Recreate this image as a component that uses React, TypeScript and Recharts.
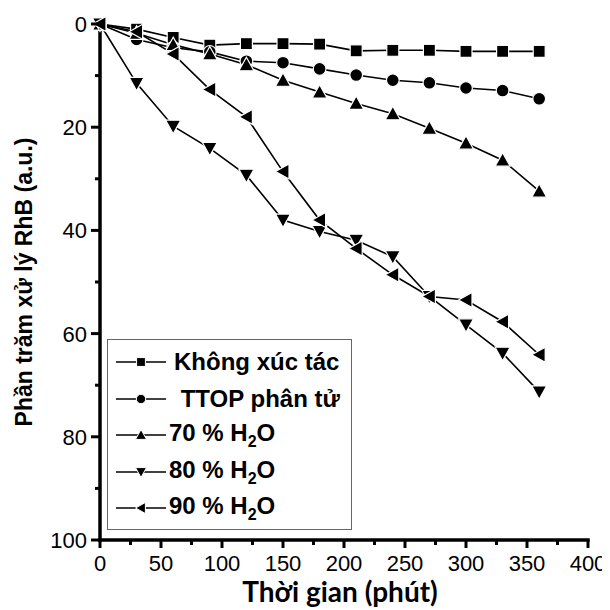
import React from 'react';
import { LineChart, Line, XAxis, YAxis, Label } from 'recharts';

const times = [0, 30, 60, 90, 120, 150, 180, 210, 240, 270, 300, 330, 360];
const khongXucTac = [0, 1.0, 2.6, 4.1, 3.8, 3.8, 3.9, 5.2, 5.1, 5.1, 5.3, 5.3, 5.3];
const ttopPhanTu = [0, 3.0, 4.6, 5.4, 7.2, 7.5, 8.7, 9.9, 10.9, 11.4, 12.4, 12.9, 14.5];
const h2o70 = [0, 1.8, 4.0, 5.8, 7.9, 10.9, 13.2, 15.4, 17.4, 20.2, 23.1, 26.4, 32.4];
const h2o80 = [0, 11.5, 19.8, 24.1, 29.3, 38.0, 40.2, 41.9, 45.1, 52.8, 58.3, 63.8, 71.3];
const h2o90 = [0, 1.5, 5.8, 12.7, 18.0, 28.6, 38.0, 43.5, 48.6, 52.8, 53.5, 57.7, 64.1];

const xTicks = [0, 25, 50, 75, 100, 125, 150, 175, 200, 225, 250, 275, 300, 325, 350, 375, 400];
const yTicks = [0, 10, 20, 30, 40, 50, 60, 70, 80, 90, 100];

type Shape = 'square' | 'circle' | 'up' | 'down' | 'left';

const series: { key: string; label: string; sub?: boolean; shape: Shape; values: number[]; textShift: number }[] = [
  { key: 'khong', label: 'Không xúc tác', shape: 'square', values: khongXucTac, textShift: 6 },
  { key: 'ttop', label: ' TTOP phân tử', shape: 'circle', values: ttopPhanTu, textShift: 6 },
  { key: 'h70', label: '70 % H', sub: true, shape: 'up', values: h2o70, textShift: 1 },
  { key: 'h80', label: '80 % H', sub: true, shape: 'down', values: h2o80, textShift: 1 },
  { key: 'h90', label: '90 % H', sub: true, shape: 'left', values: h2o90, textShift: 1 },
];

const data = times.map((t, i) => {
  const row: Record<string, number> = { t };
  series.forEach((s) => {
    row[s.key] = s.values[i];
  });
  return row;
});

const FONT = '"Liberation Sans", Arial, sans-serif';

function markerPath(shape: Shape, cx: number, cy: number, s: number): React.ReactNode {
  const h = s / 2;
  switch (shape) {
    case 'square':
      return <rect x={cx - h * 0.8} y={cy - h * 0.8} width={s * 0.8} height={s * 0.8} />;
    case 'circle':
      return <circle cx={cx} cy={cy} r={h * 0.85} />;
    case 'up':
      return <polygon points={`${cx},${cy - h} ${cx + h},${cy + h * 0.8} ${cx - h},${cy + h * 0.8}`} />;
    case 'down':
      return <polygon points={`${cx},${cy + h} ${cx + h},${cy - h * 0.8} ${cx - h},${cy - h * 0.8}`} />;
    case 'left':
      return <polygon points={`${cx - h},${cy} ${cx + h * 0.8},${cy - h} ${cx + h * 0.8},${cy + h}`} />;
  }
}

const makeDot = (shape: Shape) => (props: any) => {
  const { cx, cy, index } = props;
  if (cx == null || cy == null) return <g key={index} />;
  return (
    <g key={`${shape}-${index}`} fill="#000" stroke="#fff" strokeWidth={1.2}>
      {markerPath(shape, cx, cy, 15)}
    </g>
  );
};

const XTick = (props: any) => {
  const { x, y, payload } = props;
  const v = payload.value;
  const major = v % 50 === 0;
  return (
    <g>
      <line x1={x} x2={x} y1={y} y2={y + (major ? 8 : 5)} stroke="#000" strokeWidth={3} />
      {major && (
        <text x={x} y={y + 31} textAnchor="middle" fontSize={22} fontFamily={FONT} fill="#000">
          {v}
        </text>
      )}
    </g>
  );
};

const YTick = (props: any) => {
  const { x, y, payload } = props;
  const v = payload.value;
  const major = v % 20 === 0;
  return (
    <g>
      <line x1={x - (major ? 9 : 5)} x2={x} y1={y} y2={y} stroke="#000" strokeWidth={3} />
      {major && (
        <text x={x - 13} y={y + 8} textAnchor="end" fontSize={22} fontFamily={FONT} fill="#000">
          {v}
        </text>
      )}
    </g>
  );
};

const LegendBox = () => (
  <div
    style={{
      position: 'absolute',
      left: 99,
      top: 331,
      width: 245,
      height: 191,
      border: '1px solid #666',
      background: '#fff',
      boxSizing: 'border-box',
      fontFamily: FONT,
      fontWeight: 'bold',
      fontSize: 24,
      color: '#000',
    }}
  >
    {series.map((s, i) => (
      <div
        key={s.key}
        style={{
          position: 'absolute',
          left: 0,
          top: 4 + i * 36.6,
          height: 36,
          display: 'flex',
          alignItems: 'center',
          whiteSpace: 'pre',
        }}
      >
        <svg width={52} height={20} style={{ marginLeft: 8, flex: 'none' }}>
          <line x1={0} x2={50} y1={10} y2={10} stroke="#000" strokeWidth={1.6} />
          <g fill="#000" stroke="#fff" strokeWidth={1}>
            {markerPath(s.shape, 25, 10, 11)}
          </g>
        </svg>
        <span style={{ marginLeft: s.textShift }}>
          {s.label}
          {s.sub && (
            <>
              <sub style={{ fontSize: 16, verticalAlign: -6 }}>2</sub>O
            </>
          )}
        </span>
      </div>
    ))}
  </div>
);

export default function App() {
  return (
    <div style={{ position: 'relative', width: 602, height: 602 }}>
      <LineChart
        width={602}
        height={602}
        data={data}
        margin={{ top: 16, right: 22, left: 20, bottom: 20 }}
        style={{ overflow: 'visible' }}
      >
        <XAxis
          dataKey="t"
          type="number"
          domain={[0, 400]}
          ticks={xTicks}
          interval={0}
          tick={<XTick />}
          tickLine={false}
          tickSize={0}
          tickMargin={0}
          height={50}
          axisLine={{ stroke: '#000', strokeWidth: 3.5, strokeLinecap: 'square' }}
        >
          <Label
            content={(p: any) => {
              const vb = p.viewBox || {};
              return (
                <text
                  x={vb.x + vb.width / 2 - 4}
                  y={vb.y + 62}
                  textAnchor="middle"
                  fontSize={28}
                  fontWeight="bold"
                  fontFamily="Lato, 'Open Sans', sans-serif"
                  fill="#000"
                >
                  Thời gian (phút)
                </text>
              );
            }}
          />
        </XAxis>
        <XAxis
          xAxisId="top"
          orientation="top"
          type="number"
          domain={[0, 400]}
          height={0}
          tick={false}
          tickLine={false}
          axisLine={{ stroke: '#000', strokeWidth: 3.5, strokeLinecap: 'square' }}
        />
        <YAxis
          type="number"
          domain={[0, 100]}
          reversed
          ticks={yTicks}
          interval={0}
          tick={<YTick />}
          tickLine={false}
          tickSize={0}
          tickMargin={0}
          width={72}
          axisLine={{ stroke: '#000', strokeWidth: 3.5, strokeLinecap: 'square' }}
        >
          <Label
            content={(p: any) => {
              const vb = p.viewBox || {};
              const cx = vb.x - 4;
              const cy = vb.y + vb.height / 2;
              return (
                <text
                  x={cx}
                  y={cy}
                  textAnchor="middle"
                  dominantBaseline="central"
                  transform={`rotate(-90, ${cx}, ${cy})`}
                  fontSize={23}
                  fontWeight="bold"
                  fontFamily={FONT}
                  fill="#000"
                >
                  Phần trăm xử lý RhB (a.u.)
                </text>
              );
            }}
          />
        </YAxis>
        <YAxis
          yAxisId="right"
          orientation="right"
          type="number"
          domain={[0, 100]}
          width={0}
          tick={false}
          tickLine={false}
          axisLine={{ stroke: '#000', strokeWidth: 3.5, strokeLinecap: 'square' }}
        />
        {series.map((s) => (
          <Line
            key={s.key}
            type="linear"
            dataKey={s.key}
            stroke="#000"
            strokeWidth={1.6}
            dot={makeDot(s.shape)}
            activeDot={false}
            isAnimationActive={false}
          />
        ))}
      </LineChart>
      <LegendBox />
    </div>
  );
}
